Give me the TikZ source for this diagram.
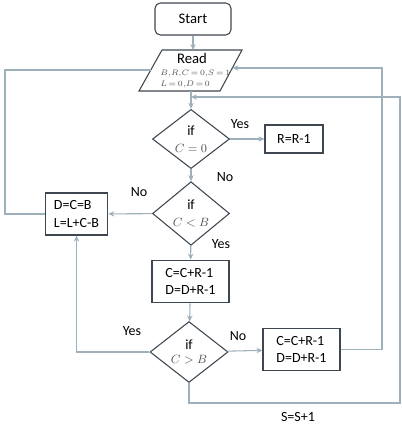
\documentclass[tikz,border=0pt]{standalone}
\usepackage{fontspec}
\setmainfont{Carlito}
\usetikzlibrary{shapes.geometric,arrows.meta,calc}
\definecolor{conn}{HTML}{9DB0BC}
\definecolor{edge}{HTML}{3E4650}
\definecolor{mathc}{HTML}{505050}
\tikzset{
  conline/.style={draw=conn,line width=0.8pt},
  arr/.style={conline,-{Stealth[length=4.5pt,width=4pt]}},
  procbox/.style={draw=edge,line width=0.8pt,rectangle,inner sep=0pt,font=\fontsize{10.5}{13}\selectfont},
  decis/.style={draw=edge,line width=0.8pt,diamond,inner sep=0pt,align=center,font=\fontsize{10.5}{11}\selectfont},
  lbl/.style={font=\fontsize{10.5}{12}\selectfont,inner sep=0pt},
  mth/.style={font=\fontsize{6.2}{8}\selectfont,text=mathc,inner sep=0pt,anchor=west}
}
\begin{document}
\begin{tikzpicture}[x=0.75pt,y=-0.75pt]
\useasboundingbox (0,0) rectangle (401,428);
% start
\node[draw=edge,line width=0.8pt,rounded corners=4pt,minimum width=57pt,minimum height=24pt,inner sep=0pt,font=\fontsize{11}{13}\selectfont] (start) at (193,19) {Start};
% read (parallelogram)
\coordinate (rtl) at (162,50);
\coordinate (rtr) at (242,50);
\coordinate (rbr) at (220,91);
\coordinate (rbl) at (139,91);
\draw[draw=edge,line width=0.8pt] (rtl) -- (rtr) -- (rbr) -- (rbl) -- cycle;
\coordinate (readn) at (193,50);
\coordinate (reads) at (191,91);
\coordinate (readw) at ($(rbl)!{21/41}!(rtl)$);
\coordinate (reade) at ($(rbr)!{23/41}!(rtr)$);
\node[lbl,font=\fontsize{11}{13}\selectfont] (readt) at (192,58) {Read};
\node[mth] (m1) at (160,74) {$\thickmuskip=3mu B{,}R{,}C=0{,}S=1$};
\node[mth] (m2) at (160,85) {$\thickmuskip=3mu L=0{,}D=0$};

\node[decis,minimum width=57.75pt,minimum height=43.5pt] (d1) at (191,139) {if\\[2pt]{\fontsize{9.5}{11}\selectfont\color{mathc}$C=0$}};
\node[procbox,minimum width=43.5pt,minimum height=21pt] (rb) at (294,139) {R=R-1};
\node[decis,minimum width=57.75pt,minimum height=43pt] (d2) at (191,213.5) {if\\[2pt]{\fontsize{9.5}{11}\selectfont\color{mathc}$C<B$}};
\node[procbox,minimum width=47pt,minimum height=31.5pt,align=left] (db) at (76.5,214) {D=C=B\\L=L+C-B};
\node[procbox,minimum width=57.75pt,minimum height=32pt,align=left] (mb) at (190.5,281.5) {C=C+R-1\\D=D+R-1};
\node[decis,minimum width=58.5pt,minimum height=43.5pt] (d3) at (189,352) {if\\[0pt]{\fontsize{9.5}{11}\selectfont\color{mathc}$C>B$}};
\node[procbox,minimum width=57.75pt,minimum height=32pt,align=left] (rb2) at (301.5,349.5) {C=C+R-1\\D=D+R-1};

% labels
\node[lbl] (y1) at (240,124) {Yes};
\node[lbl] (n1) at (225,177) {No};
\node[lbl] (n2) at (139,192) {No};
\node[lbl] (y2) at (221,244) {Yes};
\node[lbl] (y3) at (132,331) {Yes};
\node[lbl] (n3) at (238,336) {No};
\node[lbl] (s1) at (298,417) {S=S+1};

% helper coordinates
\coordinate (lft) at (5,0);
\coordinate (rin) at (382,0);
\coordinate (rout) at (400,0);
\coordinate (bot) at (0,403);
\coordinate (jn) at (191,97);

% connectors
\draw[arr] (start) -- (readn);
\draw[arr] (reads) -- (d1.north);
\draw[arr] (d1) -- (rb);
\draw[arr] (d1) -- (d2);
\draw[arr] (d2) -- (db);
\draw[arr] (d2) -- (mb);
\draw[arr] (mb) -- (d3);
\draw[arr] (d3) -- (rb2);
\draw[arr] (d3.west) -| (db.south);
\draw[conline] (db.west) -- (db.west -| lft) -- (lft |- readw) -- (readw);
\draw[arr] (rb2.east) -- (rb2.east -| rin) -- (rin |- reade) -- (reade);
\draw[arr] (d3.south) -- (d3.south |- bot) -- (rout |- bot) -- (rout |- jn) -- (jn);
\end{tikzpicture}
\end{document}
